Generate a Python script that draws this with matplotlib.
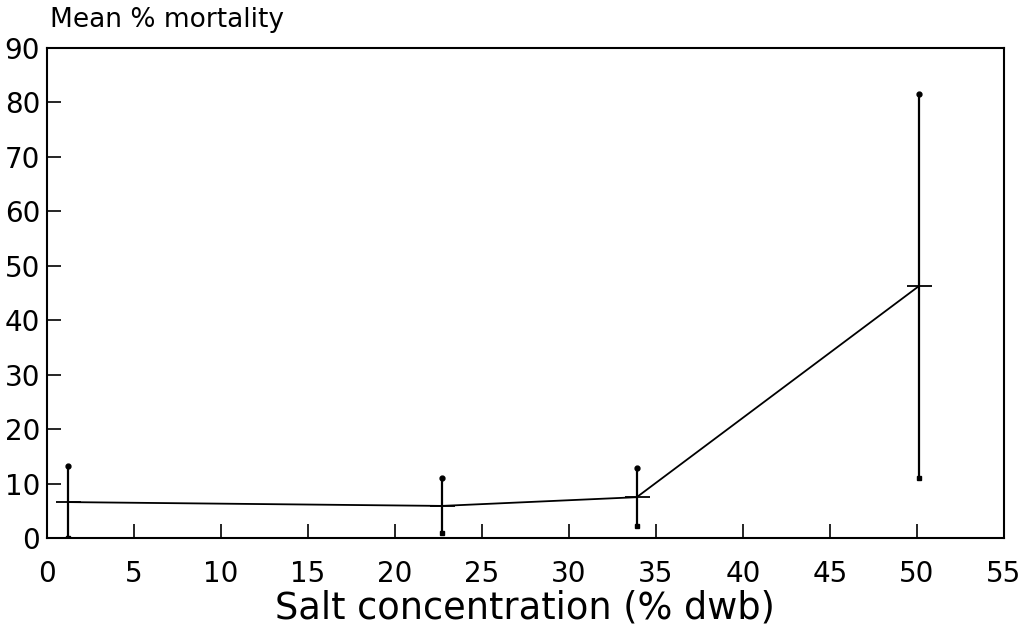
import numpy as np
import matplotlib.pyplot as plt

plt.rcParams['font.family'] = ['DejaVu Sans']

# Mittelwerte und Fehlerbalken
salt = np.array([1.2, 22.7, 33.9, 50.1])
mortality = np.array([6.6, 5.9, 7.5, 46.2])
err_low = np.array([0.0, 0.9, 2.2, 11.0])
err_high = np.array([13.2, 11.0, 12.9, 81.5])

xticks = np.arange(0, 56, 5)
yticks = np.arange(0, 91, 10)

fig = plt.figure(figsize=(10.30, 6.36), dpi=100)
ax = fig.add_axes([0.0456, 0.154, 0.929, 0.771])

# Linie
ax.plot(salt, mortality, color='black', linewidth=1.3, marker='_', markersize=18, markeredgewidth=1.3)
# Fehlerbalken
ax.vlines(salt, err_low, err_high, color='black', linewidth=1.6)
ax.plot(salt, err_low, 's', color='black', markersize=3.5)
ax.plot(salt, err_high, 'o', color='black', markersize=3.5)

ax.set_xlim(0, 55)
ax.set_ylim(0, 90)
ax.set_xticks(xticks)
ax.set_yticks(yticks)
ax.tick_params(direction='in', length=10, width=1.2, labelsize=20, pad=5, colors='black')
ax.tick_params(axis='x', pad=16)
for s in ax.spines.values():
    s.set_linewidth(1.5)

ax.set_xlabel("Salt concentration (% dwb)", fontsize=26.5, labelpad=1)
fig.text(0.0485, 0.968, "Mean % mortality", fontsize=19, va='center', ha='left')

fig.savefig("out.png", dpi=100, facecolor='white')
